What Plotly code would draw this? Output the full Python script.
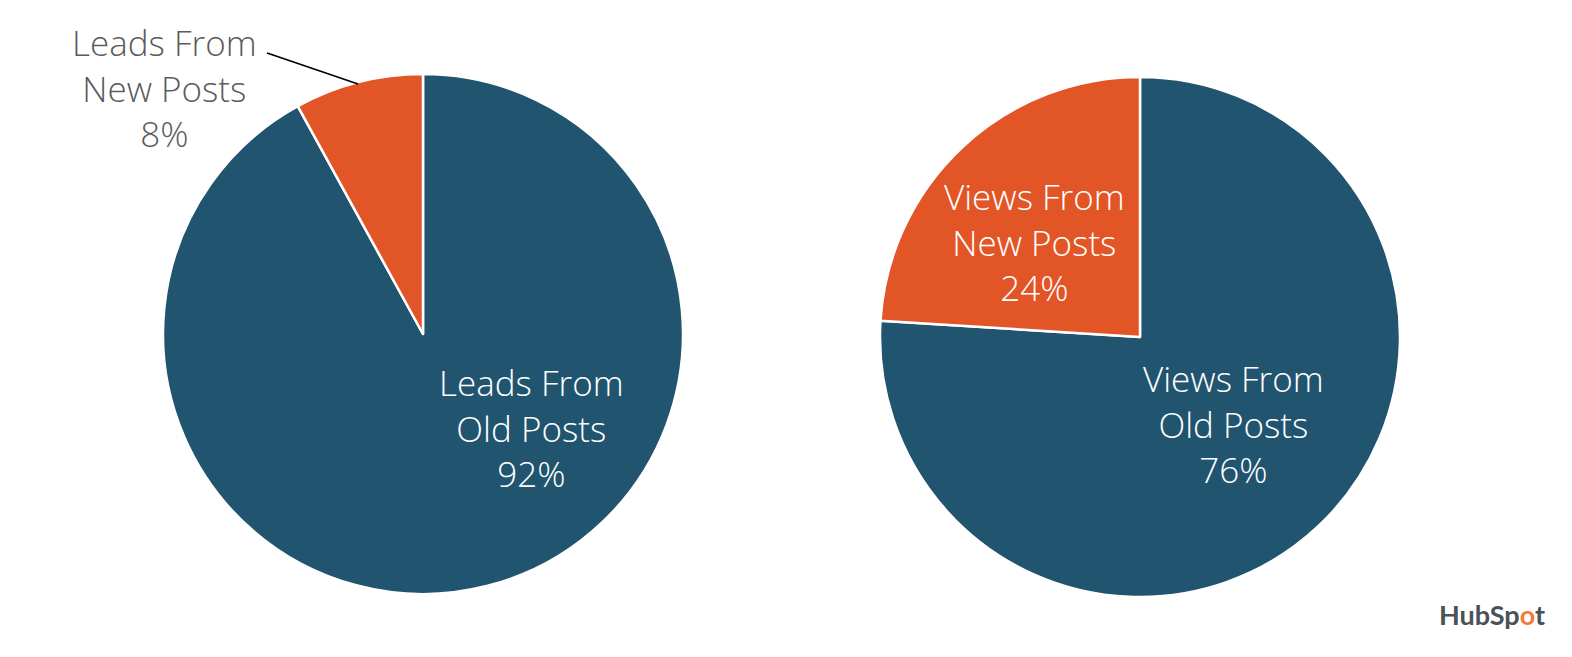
import plotly.graph_objects as go

W, H = 1572, 657

# Data (order: old posts, new posts)
lead_labels = ["Leads From Old Posts", "Leads From New Posts"]
lead_values = [92, 8]
view_labels = ["Views From Old Posts", "Views From New Posts"]
view_values = [76, 24]

BLUE = "#21546F"
ORANGE = "#E25527"
GREY = "#5B5B5B"
FONT = "Open Sans"


def px_x(x):
    return x / W


def px_y(y):
    return 1 - y / H


def wrap(label):
    words = label.split(" ")
    return " ".join(words[:2]) + "<br>" + " ".join(words[2:])


fig = go.Figure()

pies = [
    (lead_labels, lead_values, 423, 334, 260),
    (view_labels, view_values, 1140, 337, 260),
]
for labels, values, cx, cy, r in pies:
    fig.add_trace(go.Pie(
        labels=labels,
        values=values,
        sort=False,
        direction="clockwise",
        rotation=0,
        textinfo="none",
        hoverinfo="label+percent",
        marker=dict(colors=[BLUE, ORANGE], line=dict(color="white", width=2.5)),
        domain=dict(x=[px_x(cx - r), px_x(cx + r)], y=[px_y(cy + r), px_y(cy - r)]),
        showlegend=False,
    ))

# label annotations: (text, value, pixel x, pixel y of middle line, colour)
label_spots = [
    (lead_labels[1], lead_values[1], 164, 88, GREY),
    (lead_labels[0], lead_values[0], 531, 428, "white"),
    (view_labels[1], view_values[1], 1034, 242, "white"),
    (view_labels[0], view_values[0], 1233, 424, "white"),
]
annotations = []
for text, val, x, y, col in label_spots:
    annotations.append(dict(
        x=px_x(x), y=px_y(y), xref="paper", yref="paper",
        text=f"{wrap(text)}<br>{val}%",
        showarrow=False, xanchor="center", yanchor="middle",
        align="center",
        font=dict(family=FONT, size=35, color=col, weight=300),
    ))

# HubSpot logo-like text
annotations.append(dict(
    x=px_x(1492), y=px_y(614), xref="paper", yref="paper",
    text="HubSp<span style='color:#F37B3A'>o</span>t",
    showarrow=False, xanchor="center", yanchor="middle",
    font=dict(family="Lato", size=27, color="#4A5259", weight=700),
))

# leader line for the small slice
path = (f"M {px_x(267)} {px_y(53)} L {px_x(273)} {px_y(55)} "
        f"L {px_x(358)} {px_y(84)}")

fig.update_layout(
    width=W, height=H,
    margin=dict(l=0, r=0, t=0, b=0),
    paper_bgcolor="white",
    plot_bgcolor="white",
    annotations=annotations,
    shapes=[dict(type="path", path=path, xref="paper", yref="paper",
                 line=dict(color="black", width=1.8))],
)

fig.write_html("out.html", config={"displayModeBar": False},
               post_script="document.body.style.margin='0';")
